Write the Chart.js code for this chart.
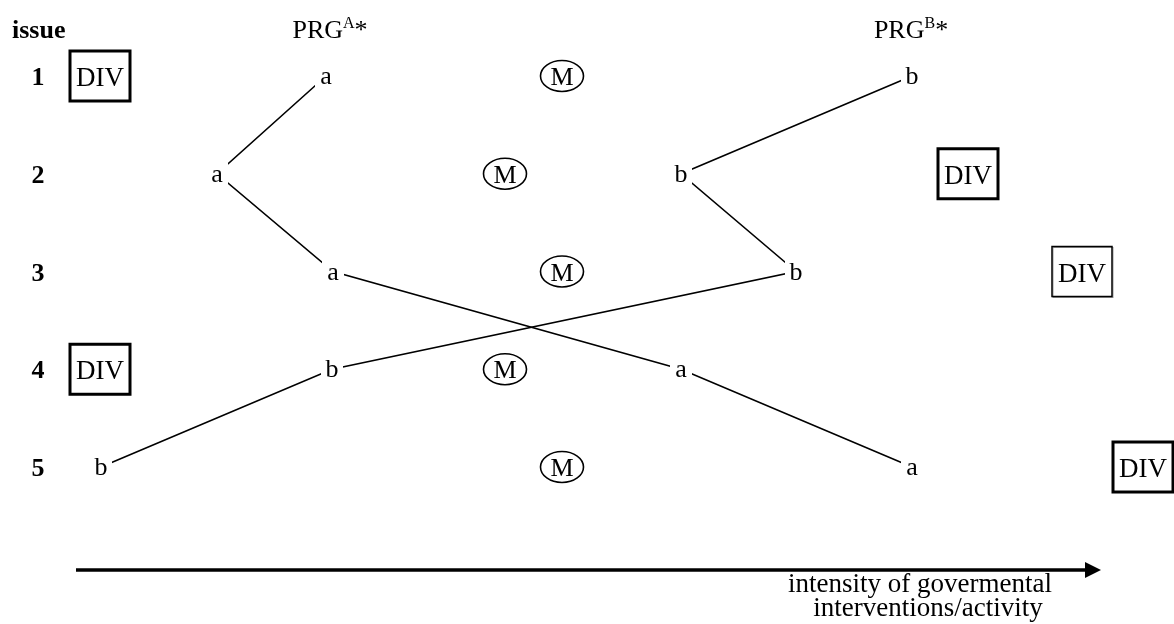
<!DOCTYPE html>
<html>
<head>
<meta charset="utf-8">
<title>PRG positions per issue</title>
<script src="https://cdn.jsdelivr.net/npm/chart.js@4/dist/chart.umd.min.js"></script>
<style>
    body { margin: 0; background: #ffffff; }
    #wrap { width: 1174px; height: 624px; }
</style>
</head>
<body>
<div id="wrap"><canvas id="issueChart" width="1174" height="624"></canvas></div>
<script>
// issues on the vertical axis (1 at top)
const issues = [1, 2, 3, 4, 5];
// position on the "intensity" axis for each issue
const prgA = [326, 217, 333, 681, 912];     // letter a
const prgB = [912, 681, 796, 332, 101];     // letter b
const median = [562, 505, 562, 505, 562];   // circled M
const divPos = [100, 968, 1082, 100, 1143]; // DIV boxes
const divBold = [true, true, false, true, true];
// header labels
const headers = [
    { text: 'PRG', sup: 'A', x: 330 },
    { text: 'PRG', sup: 'B', x: 911 },
];
const axisText = ['intensity of govermental', 'interventions/activity'];

const serif = '"Liberation Serif", "Times New Roman", serif';

function points(xs) {
    return issues.map((issue, i) => ({ x: xs[i], y: issue }));
}

// draws letters, M circles, DIV boxes, headers and the arrow on top of the lines
const diagramPlugin = {
    id: 'diagram',
    afterDatasetsDraw(chart) {
        const ctx = chart.ctx;
        const xs = chart.scales.x;
        const ys = chart.scales.y;
        ctx.save();
        ctx.fillStyle = '#000';
        ctx.strokeStyle = '#000';
        ctx.textAlign = 'center';
        ctx.textBaseline = 'alphabetic';

        // issue numbers
        ctx.font = 'bold 26px ' + serif;
        issues.forEach(issue => {
            ctx.fillText(String(issue), xs.getPixelForValue(38), ys.getPixelForValue(issue) + 9);
        });

        // a / b letters with a white patch so the lines stop short of them
        const drawLetter = (letter, xv, issue) => {
            const px = xs.getPixelForValue(xv);
            const py = ys.getPixelForValue(issue);
            ctx.fillStyle = '#fff';
            ctx.fillRect(px - 11, py - 12, 22, 24);
            ctx.fillStyle = '#000';
            ctx.font = '26px ' + serif;
            ctx.fillText(letter, px, py + 8);
        };
        issues.forEach((issue, i) => {
            drawLetter('a', prgA[i], issue);
            drawLetter('b', prgB[i], issue);
        });

        // circled M
        issues.forEach((issue, i) => {
            const px = xs.getPixelForValue(median[i]);
            const py = ys.getPixelForValue(issue);
            ctx.lineWidth = 1.6;
            ctx.beginPath();
            ctx.ellipse(px, py, 21.5, 15.5, 0, 0, Math.PI * 2);
            ctx.stroke();
            ctx.font = '26px ' + serif;
            ctx.fillText('M', px, py + 9);
        });

        // DIV boxes (the thin one has a faint grey shadow)
        issues.forEach((issue, i) => {
            const px = xs.getPixelForValue(divPos[i]);
            const py = ys.getPixelForValue(issue);
            if (!divBold[i]) {
                ctx.strokeStyle = '#999';
                ctx.lineWidth = 1;
                ctx.strokeRect(px - 29, py - 24, 60, 50);
                ctx.strokeStyle = '#000';
            }
            ctx.lineWidth = divBold[i] ? 3 : 1.5;
            ctx.strokeRect(px - 30, py - 25, 60, 50);
            ctx.font = '27px ' + serif;
            ctx.fillText('DIV', px, py + 10);
        });

        // headers
        const headY = ys.getPixelForValue(0.53);
        ctx.textAlign = 'left';
        ctx.font = 'bold 26px ' + serif;
        ctx.fillText('issue', xs.getPixelForValue(12), headY + 8);
        headers.forEach(h => {
            ctx.font = '26px ' + serif;
            const w1 = ctx.measureText(h.text).width;
            ctx.font = '16px ' + serif;
            const w2 = ctx.measureText(h.sup).width;
            ctx.font = '26px ' + serif;
            const w3 = ctx.measureText('*').width;
            let left = xs.getPixelForValue(h.x) - (w1 + w2 + w3) / 2;
            ctx.fillText(h.text, left, headY + 8);
            ctx.font = '16px ' + serif;
            ctx.fillText(h.sup, left + w1, headY - 2);
            ctx.font = '26px ' + serif;
            ctx.fillText('*', left + w1 + w2, headY + 8);
        });

        // arrow along the bottom
        const ay = ys.getPixelForValue(6.054);
        const ax0 = xs.getPixelForValue(76);
        const ax1 = xs.getPixelForValue(1101);
        ctx.lineWidth = 3.5;
        ctx.beginPath();
        ctx.moveTo(ax0, ay);
        ctx.lineTo(ax1 - 14, ay);
        ctx.stroke();
        ctx.beginPath();
        ctx.moveTo(ax1, ay);
        ctx.lineTo(ax1 - 16, ay - 8);
        ctx.lineTo(ax1 - 16, ay + 8);
        ctx.closePath();
        ctx.fill();

        ctx.textAlign = 'center';
        ctx.font = '27px ' + serif;
        ctx.fillText(axisText[0], xs.getPixelForValue(920), ys.getPixelForValue(6.2) + 8);
        ctx.fillText(axisText[1], xs.getPixelForValue(928), ys.getPixelForValue(6.445) + 8);
        ctx.restore();
    }
};

const ctx = document.getElementById('issueChart').getContext('2d');
new Chart(ctx, {
    type: 'scatter',
    data: {
        datasets: [
            {
                label: 'a',
                data: points(prgA),
                showLine: true,
                borderColor: '#000',
                borderWidth: 1.6,
                pointRadius: 0,
            },
            {
                label: 'b',
                data: points(prgB),
                showLine: true,
                borderColor: '#000',
                borderWidth: 1.6,
                pointRadius: 0,
            },
        ]
    },
    options: {
        responsive: false,
        animation: false,
        layout: { padding: 0 },
        plugins: {
            legend: { display: false },
            tooltip: { enabled: false },
        },
        scales: {
            x: { type: 'linear', min: 0, max: 1174, display: false },
            y: { type: 'linear', min: 0.2225, max: 6.606, reverse: true, display: false },
        }
    },
    plugins: [diagramPlugin]
});
</script>
</body>
</html>
